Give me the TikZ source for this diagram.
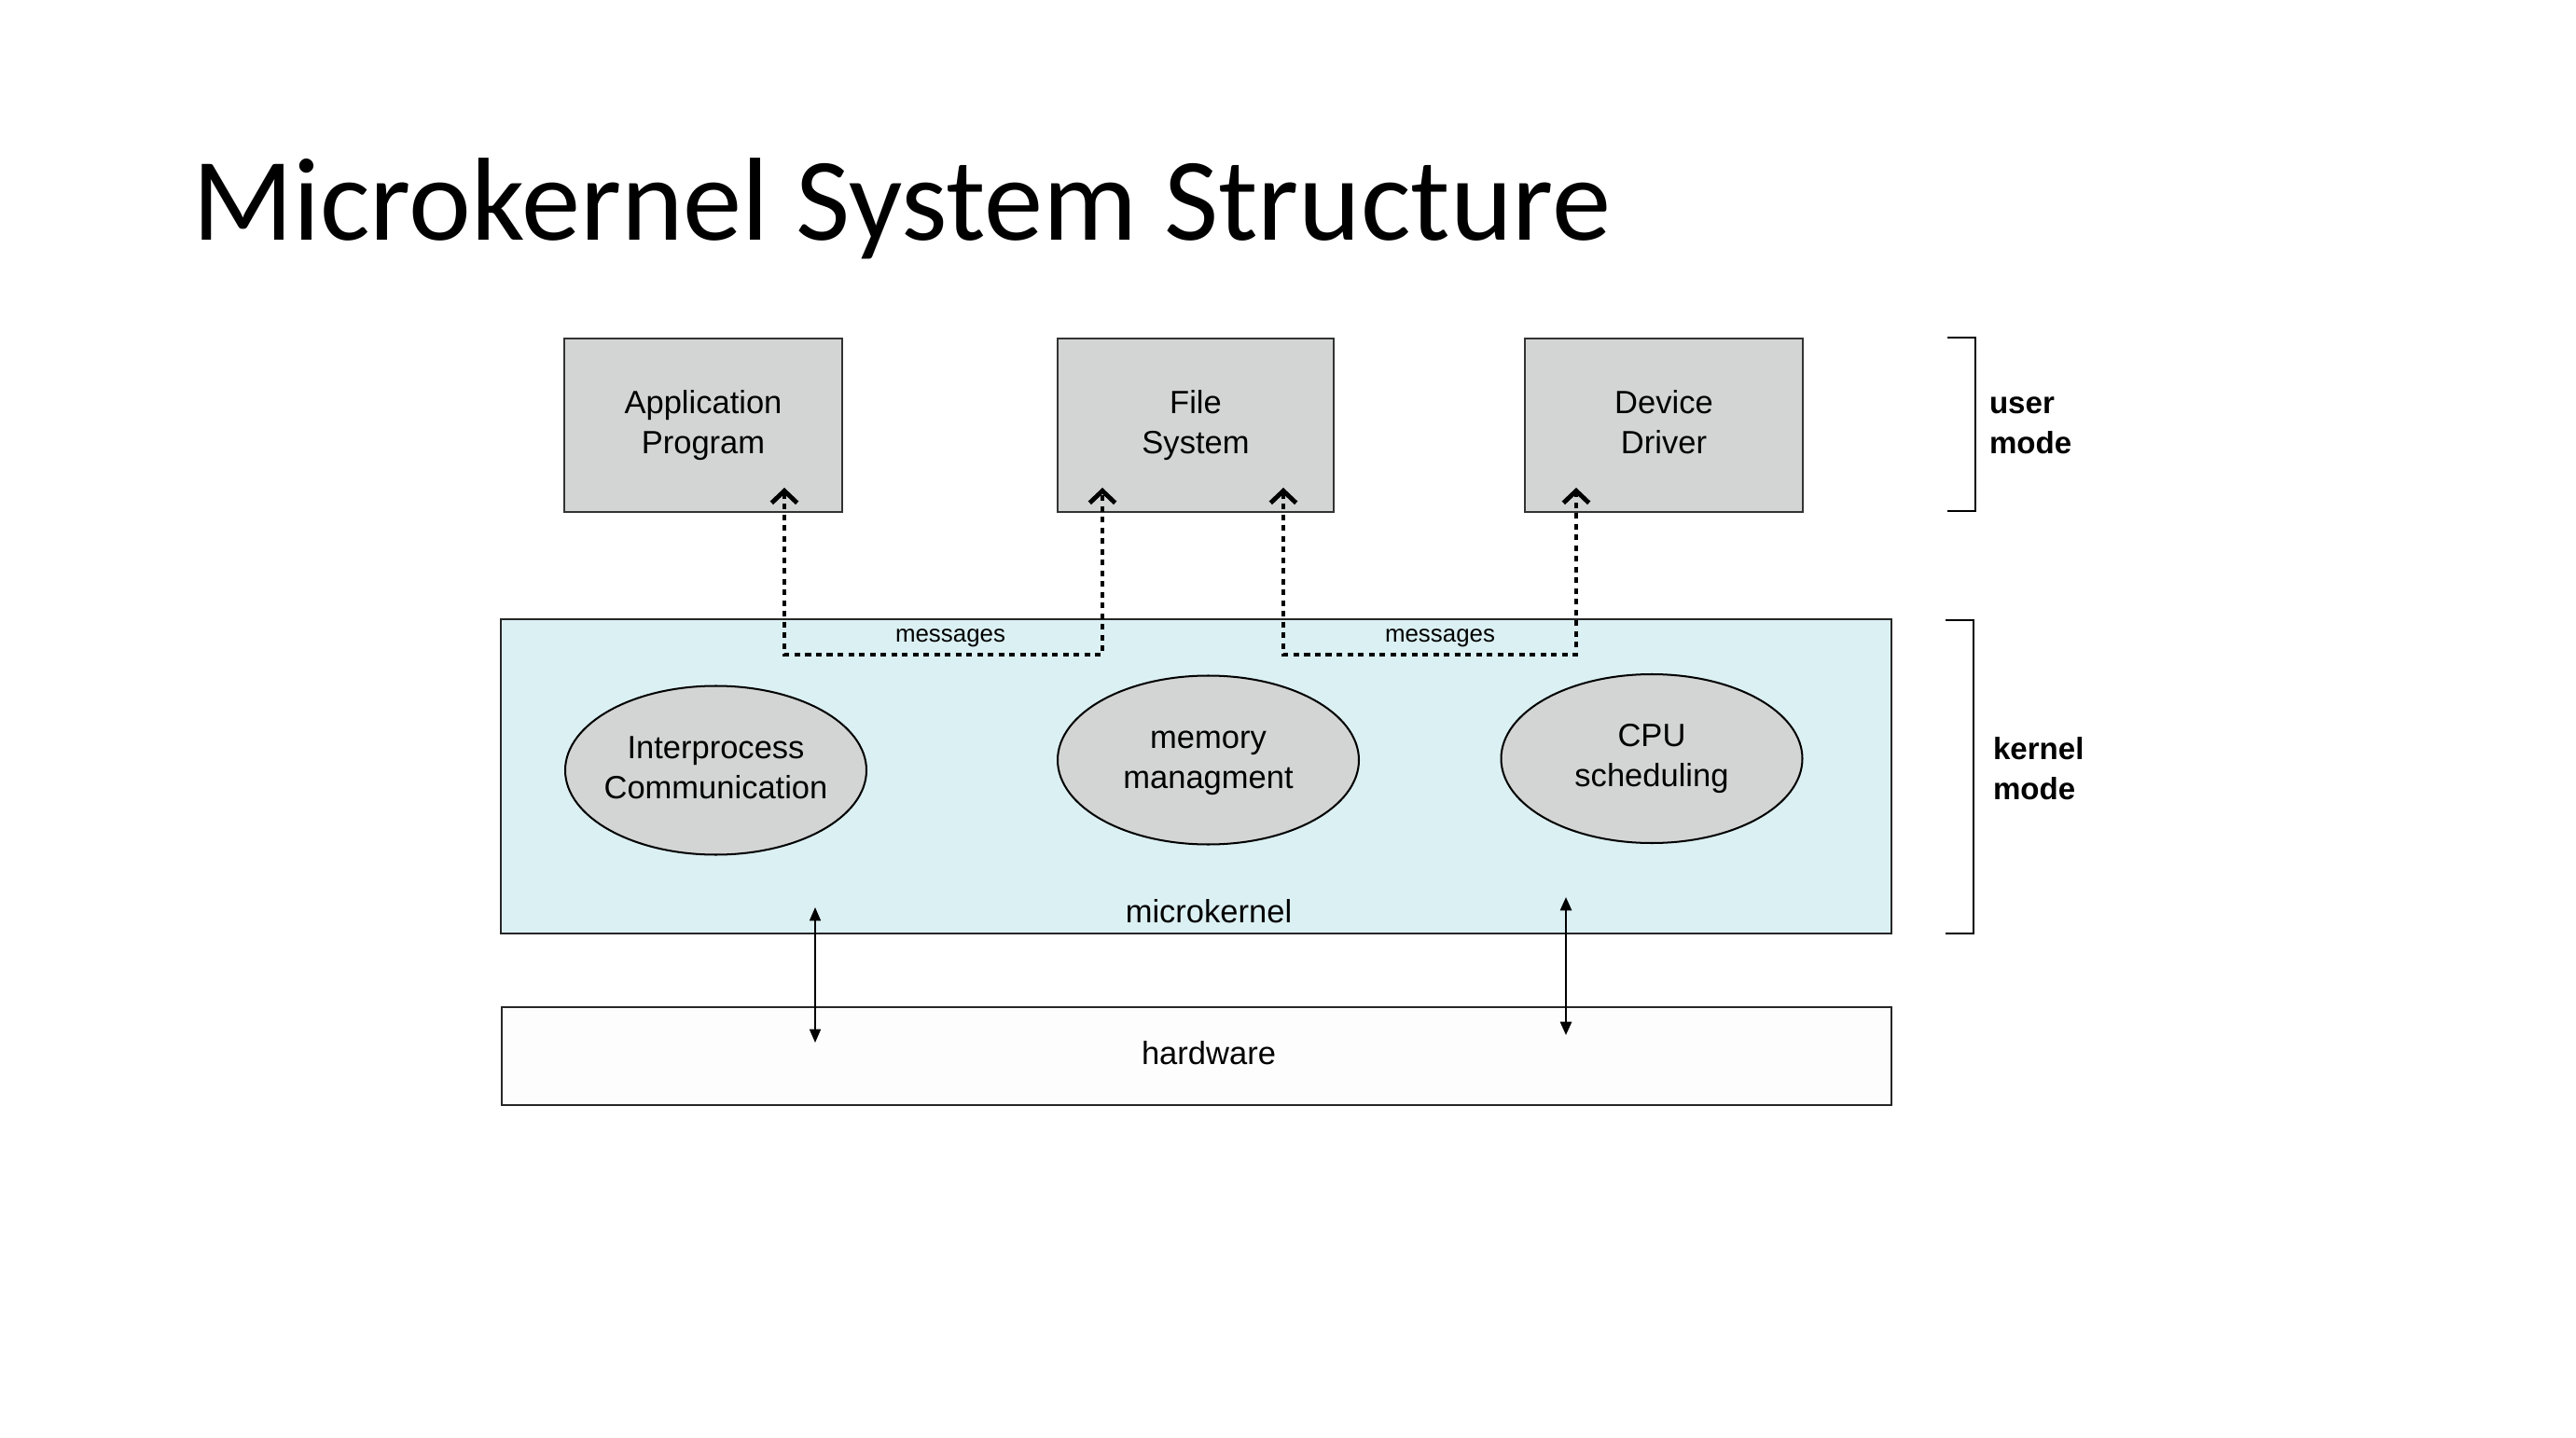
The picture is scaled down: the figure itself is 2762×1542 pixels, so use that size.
\documentclass[tikz,border=0pt]{standalone}
\usepackage{fontspec}
\setmainfont{Liberation Sans}
\newfontfamily\titlefont{Carlito}
\usetikzlibrary{arrows.meta,shapes.geometric,calc}
\definecolor{boxgray}{RGB}{211,212,212}
\definecolor{mkcyan}{RGB}{219,240,243}
\definecolor{hwwhite}{RGB}{253,253,253}
\begin{document}
\begin{tikzpicture}[x=0.34757pt,y=-0.34757pt,
  every node/.style={inner sep=0pt,outer sep=0pt},
  lbl/.style={font=\fontsize{12}{15}\selectfont,align=center},
  userbox/.style={rectangle,draw=black!80,line width=0.9pt,fill=boxgray,
    minimum height={186*0.34757pt},lbl},
  layer/.style={rectangle,draw=black!85,line width=0.9pt},
  proc/.style={ellipse,draw=black,line width=0.7pt,fill=boxgray,
    minimum width={323*0.34757pt},minimum height={181*0.34757pt}},
  barb/.tip={Straight Barb[length=4.5pt,width=9.5pt,line width=1.7pt]},
  msgline/.style={line width=1.4pt,dash pattern=on 2.1pt off 1.9pt,barb-barb},
  msgtext/.style={font=\fontsize{9}{11}\selectfont,anchor=base},
  hwarrow/.style={{Triangle[length=5pt,width=4.2pt]}-{Triangle[length=5pt,width=4.2pt]}},
  bracket/.style={line width=0.8pt},
  modetext/.style={font=\bfseries\fontsize{11.5}{15}\selectfont,align=left,anchor=north west}
]
\fill[white] (0,0) rectangle (2762,1542);
\useasboundingbox (0,0) rectangle (2762,1542);

% title
\node[anchor=base west,font=\titlefont\fontsize{44}{52}\selectfont] (title) at (206,258) {Microkernel System Structure};

% user-mode boxes
\node[userbox,minimum width={298*0.34757pt}] (app) at (754,456) {\strut Application\\\strut Program};
\node[userbox,minimum width={296*0.34757pt}] (fs) at (1282,456) {\strut File\\\strut System};
\node[userbox,minimum width={298*0.34757pt}] (dd) at (1784,456) {\strut Device\\\strut Driver};

% microkernel and hardware layers
\node[layer,fill=mkcyan,minimum width={1491*0.34757pt},minimum height={337*0.34757pt}] (mk) at (1282.5,832.5) {};
\node[layer,fill=hwwhite,minimum width={1490*0.34757pt},minimum height={105*0.34757pt}] (hw) at (1283,1132.5) {};
\node[lbl,anchor=base] (mkT) at (1296,989) {microkernel};
\node[lbl] (hwT) at (1296,1132.5) {\strut hardware};

% kernel services
\node[proc] (ipc) at (767.5,826) {};
\node[proc] (mem) at (1295.5,815) {};
\node[proc] (cpu) at (1771,813.5) {};
\node[lbl] (ipcT) at (ipc.center) {\strut Interprocess\\\strut Communication};
\node[lbl] (memT) at (mem.center) {\strut memory\\\strut managment};
\node[lbl] (cpuT) at (cpu.center) {\strut CPU\\\strut scheduling};

% message paths
\coordinate (msgy) at ($(mk.north)+(0,38)$);
\coordinate (m1a) at ($(app.south east)+(-62,-26)$);
\coordinate (m1b) at ($(fs.south west)+(48,-26)$);
\coordinate (m2a) at ($(fs.south east)+(-54,-26)$);
\coordinate (m2b) at ($(dd.south west)+(55,-26)$);
\draw[msgline] (m1a) -- (m1a |- msgy) -- (m1b |- msgy) -- (m1b);
\draw[msgline] (m2a) -- (m2a |- msgy) -- (m2b |- msgy) -- (m2b);
\node[msgtext] (msg1) at (1019,688) {messages};
\node[msgtext] (msg2) at (1544,688) {messages};

% kernel <-> hardware
\coordinate (h1a) at ($(mk.south west)+(337,-28)$);
\coordinate (h1b) at ($(hw.north west)+(336,38)$);
\coordinate (h2a) at ($(mk.south west)+(1142,-39)$);
\coordinate (h2b) at ($(hw.north west)+(1141,30)$);
\draw[hwarrow,line width=0.5pt] (h1a) -- (h1b);
\draw[hwarrow,line width=0.9pt] (h2a) -- (h2b);

% mode brackets
\draw[bracket] (2088,362) -- (2118,362) -- (2118,548) -- (2088,548);
\draw[bracket] (2086,665) -- (2116,665) -- (2116,1001) -- (2086,1001);
\node[modetext] (userT) at (2133,413) {\strut user\\\strut mode};
\node[modetext] (kernT) at (2137,784) {\strut kernel\\\strut mode};
\end{tikzpicture}
\end{document}
